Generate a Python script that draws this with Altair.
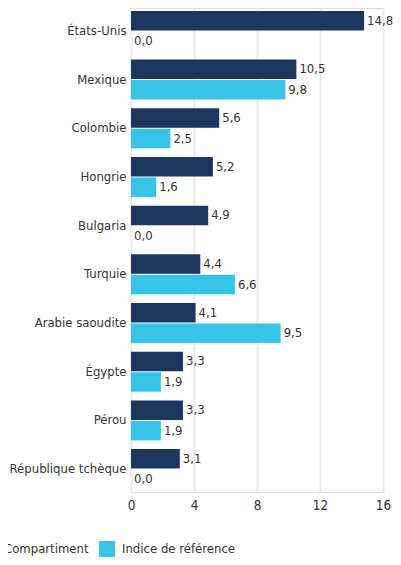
import altair as alt
import pandas as pd

pays = ["États-Unis", "Mexique", "Colombie", "Hongrie", "Bulgaria", "Turquie",
        "Arabie saoudite", "Égypte", "Pérou", "République tchèque"]
compartiment = [14.8, 10.5, 5.6, 5.2, 4.9, 4.4, 4.1, 3.3, 3.3, 3.1]
indice = [0.0, 9.8, 2.5, 1.6, 0.0, 6.6, 9.5, 1.9, 1.9, 0.0]
series = ["Compartiment", "Indice de référence"]
ticks = [0, 4, 8, 12, 16]

rows = []
for p, c, i in zip(pays, compartiment, indice):
    rows.append({"pays": p, "serie": series[0], "valeur": c})
    rows.append({"pays": p, "serie": series[1], "valeur": i})
df = pd.DataFrame(rows)
df["label"] = df["valeur"].map(lambda v: f"{v:.1f}".replace(".", ","))

FONT = "DejaVu Sans Condensed, Liberation Sans Narrow, sans-serif"
NAVY = "#1d3660"
CYAN = "#36c5e9"
TXT = "#333333"

base = alt.Chart(df).encode(
    y=alt.Y("pays:N", sort=pays,
            scale=alt.Scale(paddingInner=0.178, paddingOuter=0.06),
            axis=alt.Axis(title=None, ticks=False, domain=False, labelFontSize=13,
                          labelPadding=5, labelColor=TXT, labelFont=FONT, labelLimit=200)),
    yOffset=alt.YOffset("serie:N", sort=series, scale=alt.Scale(paddingInner=0.05)),
)

bars = base.mark_bar().encode(
    x=alt.X("valeur:Q", scale=alt.Scale(domain=[0, 16], nice=False),
            axis=alt.Axis(values=ticks, title=None, ticks=False, domain=False,
                          gridColor="#e9e9e9", gridWidth=2, labelFontSize=13.5,
                          labelPadding=6, labelColor=TXT, labelFont=FONT,
                          labelFlush=False)),
    color=alt.Color("serie:N",
                    scale=alt.Scale(domain=series, range=[NAVY, CYAN]),
                    legend=alt.Legend(title=None, orient="none", legendX=-150, legendY=533,
                                      direction="horizontal", symbolType="square",
                                      symbolSize=256, symbolStrokeWidth=0,
                                      labelFontSize=13, labelFont=FONT, labelColor=TXT,
                                      columnPadding=10, labelOffset=7)),
)

text = base.mark_text(align="left", baseline="middle", dx=3, fontSize=13,
                      font=FONT, color=TXT).encode(
    x=alt.X("valeur:Q"),
    text="label:N",
)

chart = (bars + text).properties(
    width=252, height=484,
    autosize=alt.AutoSizeParams(type="none"),
    padding={"left": 123, "top": 0, "right": 10, "bottom": 65},
).configure_view(stroke=None).configure(font=FONT)

chart.save("out.html", embed_options={"renderer": "svg", "actions": False})
